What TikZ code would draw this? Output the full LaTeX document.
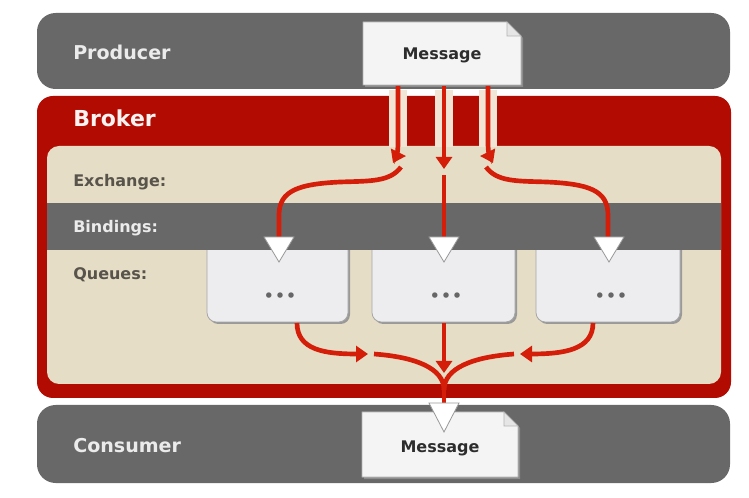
\documentclass[tikz,border=0pt]{standalone}
\usepackage{fontspec}
\setmainfont{DejaVu Sans}
\usetikzlibrary{arrows.meta}
\definecolor{bar}{RGB}{104,104,104}
\definecolor{brk}{RGB}{178,12,2}
\definecolor{beige}{RGB}{229,221,197}
\definecolor{flowred}{RGB}{212,30,10}
\definecolor{qfill}{RGB}{237,237,240}
\definecolor{stripe}{RGB}{241,229,214}
\definecolor{lbl}{RGB}{88,84,76}
\definecolor{msgfill}{RGB}{244,244,245}
\definecolor{msgtext}{RGB}{45,45,45}
\begin{document}
\begin{tikzpicture}[x=0.75pt,y=-0.75pt,
  bartext/.style={text=white!92!black, font=\bfseries\fontsize{14.3}{16}\selectfont, anchor=base west, inner sep=0},
  brokertext/.style={text=white!95!brk, font=\bfseries\fontsize{16.5}{19}\selectfont, anchor=base west, inner sep=0},
  rowtext/.style={font=\bfseries\fontsize{12}{14}\selectfont, anchor=base west, inner sep=0},
  msgtxt/.style={text=msgtext, font=\bfseries\fontsize{12}{14}\selectfont, anchor=base, inner sep=0},
  dots/.style={text=black!60, font=\fontsize{14}{14}\selectfont, inner sep=0},
  msgbox/.style={fill=msgfill, draw=black!30, line width=0.6pt},
  fold/.style={fill=black!10, draw=black!30, line width=0.5pt},
  qbox/.style={fill=qfill, draw=black!35, line width=0.6pt, rounded corners=7pt},
  qshadow/.style={fill=black!40, rounded corners=7pt},
  tri/.style={fill=white, draw=black!40, line width=0.6pt},
  stripeline/.style={draw=stripe, line width=14pt},
  flow/.style={draw=flowred, line width=3.5pt},
  flowarr/.style={flow, -{Triangle[length=9pt,width=12pt]}},
]
\useasboundingbox (0,0) rectangle (749,498);
\fill[white] (0,0) rectangle (749,498);

% bars and broker
\fill[bar, rounded corners=14pt] (37,13) rectangle (730,89);
\fill[brk, rounded corners=12pt] (37,96) rectangle (731,398);
\fill[beige, rounded corners=9pt] (47,146) rectangle (721,384);
\fill[bar, rounded corners=14pt] (37,405) rectangle (730,483);

% queue boxes
\fill[qshadow] (209,240) rectangle (350,324);
\path[qbox] (207,240) rectangle (348,322);
\fill[qshadow] (374,240) rectangle (517,324);
\path[qbox] (372,240) rectangle (515,322);
\fill[qshadow] (538,240) rectangle (682,324);
\path[qbox] (536,240) rectangle (680,322);
\node[dots] (q1) at (280,298) {•••};
\node[dots] (q2) at (446,298) {•••};
\node[dots] (q3) at (611,298) {•••};

% bindings band
\fill[bar] (47,203) rectangle (721,250);

% labels
\node[bartext] (prod) at (73,60) {Producer};
\node[brokertext] (brok) at (73,127) {Broker};
\node[rowtext, text=lbl] (exch) at (73,187) {Exchange:};
\node[rowtext, text=white!92!black] (bind) at (73,233) {Bindings:};
\node[rowtext, text=lbl] (queues) at (73,280) {Queues:};
\node[bartext] (cons) at (73,452) {Consumer};

% top message
\fill[black!45] (365,24) -- (509,24) -- (523,38) -- (523,87) -- (365,87) -- cycle;
\path[msgbox] (363,22) -- (507,22) -- (521,36) -- (521,85) -- (363,85) -- cycle;
\path[fold] (507,22) -- (507,36) -- (521,36) -- cycle;
\node[msgtxt] (msgtop) at (442,60) {Message};

% bottom message
\fill[black!45] (364,414) -- (506,414) -- (520,428) -- (520,479) -- (364,479) -- cycle;
\path[msgbox] (362,412) -- (504,412) -- (518,426) -- (518,477) -- (362,477) -- cycle;
\path[fold] (504,412) -- (504,426) -- (518,426) -- cycle;
\node[msgtxt] (msgbot) at (440,452) {Message};

% outlets and targets
\coordinate (o1) at (398,86);
\coordinate (o2) at (444,86);
\coordinate (o3) at (488,86);
\coordinate (t1) at (279,240);
\coordinate (t2) at (444,240);
\coordinate (t3) at (608,240);
\coordinate (b1) at (297,323);
\coordinate (b2) at (444,323);
\coordinate (b3) at (593,323);
\coordinate (tb) at (444,405);

% stripes through broker header
\draw[stripeline] (398,90) -- (398,147);
\draw[stripeline] (444,90) -- (444,147);
\draw[stripeline] (488,90) -- (488,147);

% producer -> exchange
\draw[flowarr] (o1) -- (398,145) .. controls (398,152) and (396,157) .. (393,163);
\draw[flowarr] (o2) -- (444,169);
\draw[flowarr] (o3) -- (488,145) .. controls (488,152) and (490,157) .. (493,163);

% exchange -> bindings
\draw[flow] (401,167) .. controls (390,182) and (370,181) .. (340,182)
  .. controls (300,184) and (279,190) .. (279,215) -- (t1);
\draw[flow] (444,175) -- (t2);
\draw[flow] (486,167) .. controls (497,182) and (517,181) .. (547,182)
  .. controls (588,184) and (608,190) .. (608,215) -- (t3);

% queue triangles
\path[tri] (264,237) -- (294,237) -- (279,262) -- cycle;
\path[tri] (429,237) -- (459,237) -- (444,262) -- cycle;
\path[tri] (594,237) -- (624,237) -- (609,262) -- cycle;

% queues -> consumer
\draw[flowarr] (b1) .. controls (297,350) and (325,354) .. (368,354);
\draw[flowarr] (b2) -- (444,373);
\draw[flowarr] (b3) .. controls (593,350) and (563,354) .. (520,354);
\draw[flow] (374,354) .. controls (415,357) and (444,368) .. (444,390);
\draw[flow] (514,354) .. controls (473,357) and (444,368) .. (444,390);
\draw[flow] (444,385) -- (tb);

% consumer triangle
\path[tri] (429,403) -- (459,403) -- (444,432) -- cycle;
\end{tikzpicture}
\end{document}
